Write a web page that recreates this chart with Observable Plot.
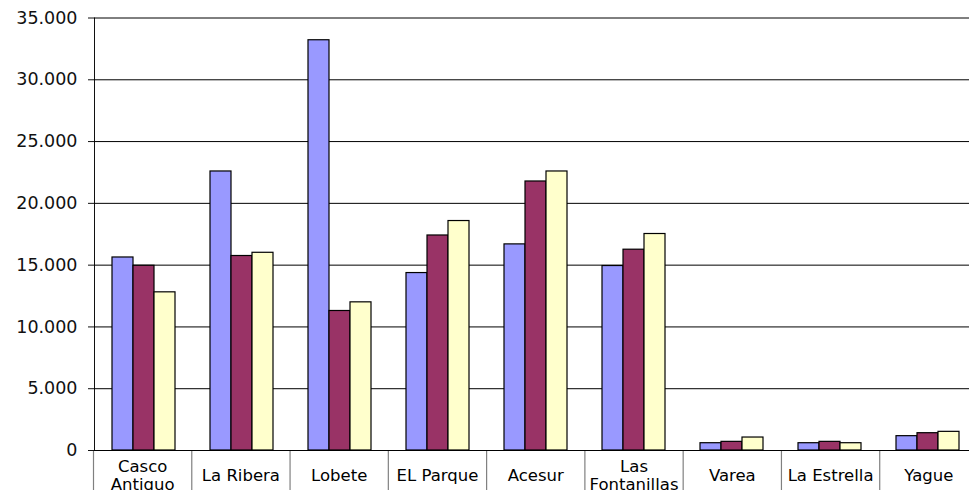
<!DOCTYPE html>
<html>
<head>
<meta charset="utf-8">
<script src="https://cdn.jsdelivr.net/npm/d3@7"></script>
<script src="https://cdn.jsdelivr.net/npm/@observablehq/plot@0.6"></script>
<style>
  html, body { margin: 0; padding: 0; background: white; overflow: hidden; }
  #chart svg { display: block; }
  #chart svg.main { overflow: visible; position: relative; z-index: 2; }
</style>
</head>
<body>
<div id="chart"></div>
<script>
const categories = ["Casco Antiguo", "La Ribera", "Lobete", "EL Parque", "Acesur", "Las Fontanillas", "Varea", "La Estrella", "Yague"];
const categoryLabels = ["Casco\nAntiguo", "La Ribera", "Lobete", "EL Parque", "Acesur", "Las\nFontanillas", "Varea", "La Estrella", "Yague"];
const series = ["Serie 1", "Serie 2", "Serie 3"];
const serie1 = [15620, 22580, 33200, 14360, 16680, 14930, 590, 590, 1160];
const serie2 = [14950, 15740, 11290, 17400, 21770, 16250, 700, 700, 1400];
const serie3 = [12800, 16000, 11990, 18570, 22580, 17520, 1050, 590, 1510];
const yTicks = [0, 5000, 10000, 15000, 20000, 25000, 30000, 35000];
const colors = ["#9999FF", "#993366", "#FFFFCC"];

const values = [serie1, serie2, serie3];
const data = [];
categories.forEach((c, i) => series.forEach((s, j) => data.push({category: c, series: s, value: values[j][i]})));

const locale = d3.formatLocale({decimal: ",", thousands: ".", grouping: [3], currency: ["", ""]});
const fmt = locale.format(",");

const main = Plot.plot({
  width: 969,
  height: 451,
  marginLeft: 93,
  marginRight: -8.5,
  marginTop: 17.5,
  marginBottom: 1,
  className: "main",
  style: {fontFamily: "DejaVu Sans, Verdana, sans-serif", fontSize: "17.5px", background: "transparent", color: "#111", overflow: "visible"},
  facet: {data, x: "category"},
  fx: {domain: categories, padding: 0, axis: null, label: null},
  x: {domain: series, paddingInner: 0, paddingOuter: 0.73, axis: null},
  y: {domain: [0, 35000], ticks: yTicks, tickFormat: fmt, tickSize: 6, tickPadding: 11, line: true, label: null},
  color: {domain: series, range: colors},
  marks: [
    Plot.ruleY(yTicks, {stroke: "#000", strokeWidth: 1}),
    Plot.barY(data, {x: "series", y: "value", fill: "series", stroke: "#000", strokeWidth: 1.2})
  ]
});
main.classList.add("main");

const labelRow = Plot.plot({
  width: 969,
  height: 39,
  marginLeft: 93,
  marginRight: -8.5,
  marginTop: 0,
  marginBottom: 0,
  style: {fontFamily: "DejaVu Sans, Verdana, sans-serif", background: "transparent", color: "#000"},
  x: {domain: [0, categories.length], axis: null},
  marks: [
    Plot.ruleX(categories.map((d, i) => i).concat([categories.length]), {stroke: "#808080", strokeWidth: 1.2}),
    Plot.text(categoryLabels, {x: (d, i) => i + 0.5, text: d => d, dy: 4, fontSize: 16.5, lineHeight: 1.1, fill: "#000"})
  ]
});

document.getElementById("chart").append(main, labelRow);
</script>
</body>
</html>
